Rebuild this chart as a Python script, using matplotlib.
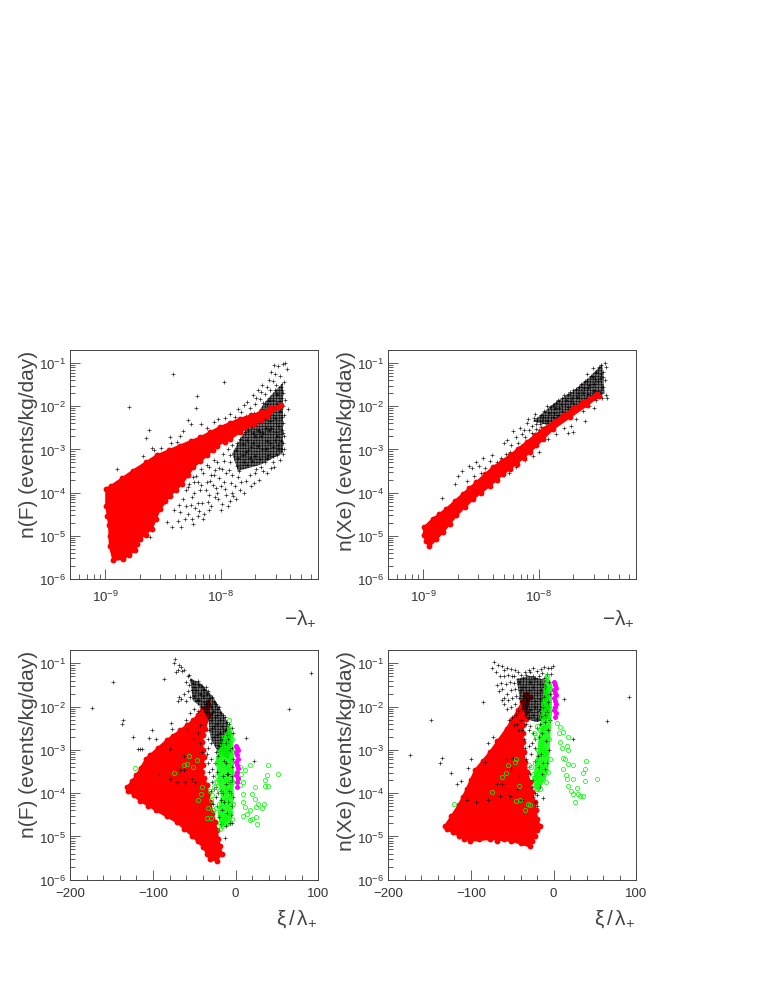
import numpy as np
import matplotlib
matplotlib.use('Agg')
from matplotlib import pyplot as plt
from matplotlib.ticker import LogLocator, NullFormatter, FixedLocator, LogFormatterMathtext

plt.rcParams['font.family'] = ['Liberation Sans', 'DejaVu Sans']
plt.rcParams['mathtext.fontset'] = 'custom'
plt.rcParams['mathtext.rm'] = 'Liberation Sans'
plt.rcParams['mathtext.it'] = 'Liberation Sans:italic'
plt.rcParams['mathtext.bf'] = 'Liberation Sans:bold'
plt.rcParams['hatch.linewidth'] = 0.45

# everything is log10(value), except xi/lambda which is linear in x

# top left: n(F) vs -lambda
tl_red = [(-8.99,-3.91),(-8.945,-3.84),(-8.757,-3.49),(-8.554,-3.14),(-8.351,-2.91),(-8.177,-2.72),
          (-8.003,-2.48),(-7.829,-2.29),(-7.655,-2.14),(-7.481,-1.97),(-7.50,-2.03),(-7.597,-2.23),
          (-7.713,-2.41),(-7.829,-2.60),(-7.916,-2.75),(-8.032,-2.91),(-8.119,-3.14),(-8.235,-3.41),
          (-8.336,-3.80),(-8.438,-4.07),(-8.525,-4.38),(-8.597,-4.84),(-8.699,-5.07),(-8.742,-5.34),
          (-8.843,-5.54),(-8.93,-5.55),(-8.959,-5.23),(-8.965,-4.76),(-8.99,-4.30)]
tl_red_edge = [(-8.85,-3.66),(-8.65,-3.3),(-8.45,-3.02),(-8.26,-2.8),(-8.09,-2.6),(-7.92,-2.38),(-7.74,-2.2),(-7.57,-2.05),
               (-8.07,-3.02),(-8.18,-3.27),(-8.28,-3.6),(-8.39,-3.95),(-8.48,-4.2),(-8.56,-4.6),(-8.65,-4.97),(-8.72,-5.2),
               (-8.79,-5.45),(-8.9,-5.5),(-8.96,-5.0),(-8.98,-4.55),(-7.96,-2.83),(-7.65,-2.32)]
tl_dense = [(-7.65,-3.35),(-7.46,-3.08),(-7.46,-1.45),(-7.6,-1.85),(-7.72,-2.3),(-7.82,-2.7),(-7.9,-3.1),(-7.85,-3.5)]
tl_black = [(-8.414,-1.26),(-7.97,-1.43),(-8.206,-1.77),(-8.21,-2.04),(-8.79,-2.01),(-8.90,-3.45),(-8.62,-2.55),
    (-8.65,-2.73),(-8.44,-2.72),(-8.59,-2.97),(-8.675,-3.16),(-8.52,-2.96),(-8.33,-2.58),(-8.28,-2.31),(-8.26,-2.41),
    (-8.61,-5.03),(-8.42,-4.80),(-8.34,-4.80),(-8.235,-4.72),(-8.365,-4.65),(-8.46,-4.69),(-8.36,-4.28),(-8.58,-3.02),
    (-8.43,-2.85),(-8.38,-2.82),(-8.35,-2.70),(-8.17,-2.42),(-8.12,-2.5),(-8.06,-2.36),(-8.02,-2.3),(-7.96,-2.28),
    (-7.92,-2.18),(-7.88,-2.24),(-7.85,-2.06),(-7.82,-2.13),(-7.8,-1.98),(-7.77,-1.9),(-7.75,-2.05),(-7.72,-1.75),
    (-7.7,-1.95),(-7.68,-1.62),(-7.66,-1.83),(-7.64,-1.52),(-7.62,-1.72),(-7.6,-1.95),(-7.58,-1.4),(-7.57,-1.62),
    (-7.55,-1.85),(-7.53,-1.25),(-7.52,-1.5),(-7.51,-1.72),(-7.5,-1.08),(-7.49,-1.3),(-7.48,-1.55),(-7.47,-1.82),
    (-7.46,-1.02),(-7.44,-1.0),(-7.43,-1.15),(-7.42,-2.07),(-7.54,-1.05),(-7.56,-1.2),(-7.45,-1.45),(-7.46,-1.7),
    (-8.3,-4.3),(-8.28,-4.5),(-8.25,-4.1),(-8.22,-4.35),(-8.2,-4.55),(-8.18,-3.95),(-8.16,-4.25),(-8.14,-4.5),
    (-8.12,-3.75),(-8.1,-4.05),(-8.08,-4.3),(-8.06,-3.6),(-8.04,-3.9),(-8.02,-4.15),(-8.0,-4.4),(-7.99,-3.45),
    (-7.97,-3.75),(-7.95,-4.05),(-7.94,-4.3),(-7.92,-3.3),(-7.9,-3.6),(-7.88,-3.85),(-7.87,-4.15),(-7.85,-3.2),
    (-7.84,-3.5),(-7.82,-3.75),(-7.8,-4.0),(-7.78,-3.05),(-7.77,-3.35),(-7.75,-3.6),(-7.74,-3.85),(-7.72,-2.85),
    (-7.7,-3.15),(-7.69,-3.45),(-7.67,-3.7),(-7.65,-2.7),(-7.64,-3.0),(-7.62,-3.3),(-7.6,-3.55),(-7.58,-2.55),
    (-7.57,-2.85),(-7.55,-3.15),(-7.54,-3.4),(-7.52,-2.4),(-7.51,-2.7),(-7.5,-3.0),(-7.49,-3.25),(-7.47,-2.25),
    (-7.47,-2.55),(-7.46,-2.85),(-7.46,-3.1),(-8.4,-4.4),(-8.35,-4.45),(-8.3,-3.95),(-8.27,-3.8),(-8.24,-3.65),
    (-8.2,-3.75),(-8.15,-3.55),(-8.1,-3.4),(-8.08,-3.6),(-8.03,-3.3),(-7.98,-3.1),(-7.94,-3.0),(-7.9,-2.9),
    (-7.86,-2.85),(-7.83,-2.75),(-7.79,-2.6),(-7.76,-2.55),(-7.73,-2.45),(-7.69,-2.4),(-7.66,-2.25),(-7.62,-2.3),
    (-7.59,-2.15),(-7.55,-2.2),(-7.53,-2.05),(-7.49,-2.1),(-7.61,-2.5),(-7.56,-2.5),(-7.52,-2.6),(-7.48,-2.8),
    (-7.66,-2.6),(-7.7,-2.7),(-7.74,-2.95),(-7.6,-2.8),(-7.55,-2.95),(-7.5,-2.9),(-7.46,-2.4),(-7.46,-2.0),
    (-7.8,-3.3),(-7.75,-3.2),(-7.7,-3.55),(-7.65,-3.4),(-7.6,-3.2),(-7.55,-3.3),(-7.85,-3.65),(-7.9,-4.0),
    (-7.95,-3.55),(-8.0,-3.85),(-8.05,-4.1),(-8.1,-4.4),(-8.15,-4.6),(-8.2,-4.25),(-8.25,-4.6),(-7.92,-4.2),
    (-8.33,-4.15),(-8.31,-4.62),(-8.28,-3.88),(-8.26,-4.28),(-8.23,-4.02),(-8.21,-3.62),(-8.19,-4.42),(-8.17,-3.82),
    (-8.13,-3.93),(-8.11,-4.22),(-8.09,-3.72),(-8.07,-3.82),(-8.05,-3.48),(-8.03,-4.02),(-8.01,-3.67),(-7.99,-4.27),
    (-7.96,-3.92),(-7.93,-3.47),(-7.91,-3.77),(-7.89,-4.07),(-7.86,-3.38),(-7.83,-3.93),(-7.81,-3.12),(-7.78,-3.72),
    (-7.76,-3.02),(-7.73,-3.27),(-7.71,-3.77),(-7.68,-2.92),(-7.66,-3.22),(-7.63,-3.5),(-7.61,-2.98),(-7.59,-3.12),
    (-7.56,-3.42),(-7.53,-2.78),(-7.51,-3.12),(-7.48,-2.98),(-7.45,-2.7),(-7.45,-3.0),(-7.45,-2.2),(-7.44,-1.85),
    (-7.46,-2.62),(-7.47,-1.62),(-7.49,-1.88),(-7.51,-1.95),(-7.53,-1.62),(-7.55,-1.42),(-7.58,-1.85),(-7.6,-1.55),
    (-7.63,-1.92),(-7.65,-1.68),(-7.69,-1.82),(-7.71,-2.15),(-7.78,-2.22),(-7.83,-2.33),(-7.87,-2.45),(-7.93,-2.45),
    (-7.53,-2.28),(-7.5,-2.45),(-7.57,-2.35),(-7.63,-2.62),(-7.68,-2.55),(-7.72,-2.62),(-7.77,-2.78),(-7.81,-2.88),
    (-7.87,-3.02),(-7.92,-3.12),(-7.97,-3.28),(-8.01,-3.42),(-8.06,-3.25),(-8.12,-3.35),(-8.17,-3.45),(-8.23,-3.75)]

# top right: n(Xe) vs -lambda
tr_red = [(-8.99,-4.80),(-8.916,-4.61),(-8.80,-4.38),(-8.655,-4.03),(-8.539,-3.76),(-8.394,-3.41),(-8.249,-3.14),
          (-8.104,-2.83),(-7.959,-2.52),(-7.786,-2.21),(-7.612,-1.90),(-7.496,-1.71),(-7.481,-1.77),(-7.583,-1.98),
          (-7.728,-2.25),(-7.872,-2.52),(-7.959,-2.75),(-8.075,-3.06),(-8.191,-3.33),(-8.307,-3.57),(-8.423,-3.84),
          (-8.568,-4.15),(-8.713,-4.53),(-8.829,-4.92),(-8.945,-5.24),(-8.974,-5.11),(-8.994,-4.99)]
tr_red_edge = [(-8.86,-4.5),(-8.72,-4.2),(-8.6,-3.9),(-8.46,-3.58),(-8.32,-3.28),(-8.18,-2.98),(-8.03,-2.66),(-7.87,-2.36),
               (-7.7,-2.05),(-7.55,-1.8),(-8.02,-2.9),(-8.13,-3.2),(-8.25,-3.45),(-8.36,-3.7),(-8.5,-4.0),(-8.64,-4.33),
               (-8.77,-4.72),(-8.89,-5.08)]
tr_dense = [(-8.05,-2.35),(-7.85,-1.9),(-7.7,-1.65),(-7.55,-1.3),(-7.45,-1.02),(-7.43,-1.7),(-7.5,-1.85),(-7.7,-2.1),(-7.9,-2.45)]
tr_black = [(-8.84,-4.13),(-8.72,-3.8),(-8.6,-3.38),(-8.58,-3.42),(-8.54,-3.3),(-8.52,-3.38),(-8.5,-3.55),(-8.48,-3.2),
    (-8.46,-3.6),(-8.42,-3.28),(-8.4,-3.12),(-8.38,-3.42),(-8.36,-3.3),(-8.33,-3.2),(-8.3,-2.85),(-8.28,-3.1),
    (-8.27,-2.78),(-8.24,-2.9),(-8.22,-2.58),(-8.2,-2.72),(-8.18,-2.85),(-8.16,-2.5),(-8.14,-2.65),(-8.12,-2.72),
    (-8.1,-2.4),(-8.08,-2.55),(-8.06,-2.62),(-8.04,-2.28),(-8.02,-2.42),(-8.0,-2.55),(-7.98,-2.2),(-7.97,-2.35),
    (-7.95,-2.1),(-7.94,-2.45),(-7.92,-2.25),(-7.9,-2.02),(-7.89,-2.35),(-7.87,-2.15),(-7.85,-1.92),(-7.84,-2.28),
    (-7.82,-2.05),(-7.8,-1.8),(-7.79,-2.18),(-7.77,-1.95),(-7.75,-1.72),(-7.74,-2.1),(-7.72,-1.88),(-7.7,-1.62),
    (-7.69,-2.0),(-7.67,-1.78),(-7.65,-1.55),(-7.64,-1.92),(-7.62,-1.7),(-7.6,-1.42),(-7.59,-1.82),(-7.57,-1.58),
    (-7.55,-1.3),(-7.54,-1.75),(-7.52,-1.48),(-7.5,-1.2),(-7.49,-1.65),(-7.47,-1.35),(-7.46,-1.05),(-7.45,-1.55),
    (-7.44,-1.2),(-7.43,-1.0),(-7.43,-1.4),(-7.42,-1.75),(-7.41,-1.8),(-7.45,-1.8),(-7.5,-1.85),(-7.42,-1.1),
    (-7.56,-2.0),(-7.62,-2.1),(-7.68,-2.3),(-7.72,-2.45),(-7.78,-2.5),(-7.85,-2.65),(-7.92,-2.75),(-8.0,-3.05),
    (-8.05,-3.15),(-8.12,-3.25),(-8.2,-3.4),(-8.26,-3.55),(-7.75,-2.62),(-7.7,-2.6),(-7.6,-2.35),(-7.52,-2.05),
    (-8.56,-3.62),(-8.62,-3.72),(-8.66,-3.5),(-8.7,-3.62),(-8.46,-3.42),(-8.3,-3.3),(-8.15,-2.92),(-8.25,-3.05),
    (-7.58,-1.25),(-7.53,-1.12),(-7.48,-1.1),(-7.46,-1.25),(-7.51,-1.38),(-7.56,-1.5),(-7.61,-1.58),(-7.66,-1.7),
    (-7.71,-1.8),(-7.76,-1.85),(-7.81,-1.95),(-7.86,-2.05),(-7.91,-2.15),(-7.96,-2.25),(-8.01,-2.35),(-8.06,-2.45),
    (-8.13,-2.55),(-8.09,-2.3),(-8.03,-2.18),(-7.99,-2.42),(-7.93,-2.0),(-7.88,-1.98),(-7.83,-1.85),(-7.78,-1.75),
    (-7.73,-1.68),(-7.68,-1.6),(-7.63,-1.48),(-7.58,-1.42),(-7.53,-1.32),(-7.49,-1.42),(-7.44,-1.32),(-7.44,-1.55),
    (-7.47,-1.7),(-7.52,-1.65),(-7.57,-1.72),(-7.6,-1.95),(-7.65,-1.82),(-7.7,-1.92),(-7.75,-2.02),(-7.8,-2.1),
    (-7.83,-2.2),(-7.88,-2.25),(-7.93,-2.35),(-7.98,-2.48),(-8.02,-2.52)]

# bottom left: n(F) vs xi/lambda
bl_red = [(-131,-3.86),(-120,-3.59),(-108,-3.20),(-83.5,-2.78),(-67,-2.55),(-51,-2.31),(-41,-2.08),(-33,-1.95),
          (-32,-2.20),(-37,-2.51),(-41,-2.82),(-38,-3.16),(-41,-3.51),(-35,-3.82),(-31,-4.21),(-25,-4.67),(-21,-5.06),
          (-17,-5.40),(-23,-5.56),(-31,-5.52),(-39,-5.25),(-53,-4.98),(-71,-4.67),(-96,-4.40),(-116,-4.17),(-130,-3.94)]
bl_red_edge = [(-125,-3.72),(-114,-3.42),(-103,-3.12),(-94,-2.95),(-76,-2.68),(-59,-2.42),(-46,-2.2),(-39,-2.65),(-39,-3.0),
               (-40,-3.35),(-38,-3.66),(-33,-4.02),(-28,-4.45),(-23,-4.85),(-19,-5.22),(-35,-5.4),(-46,-5.1),(-62,-4.82),
               (-83,-4.53),(-106,-4.3),(-123,-4.05)]
bl_dense = [(-55,-1.35),(-43,-1.45),(-27,-1.78),(-11,-2.32),(-5,-2.6),(-8,-3.2),(-20,-3.1),(-30,-2.75),(-33,-2.3),(-40,-2.05),(-52,-1.85)]
bl_green_core = [(-7,-2.43),(-3,-2.66),(-2,-3.5),(-3,-4.28),(-5,-4.75),(-17,-4.79),(-22,-4.52),(-18,-4.05),(-22,-3.67),
                 (-24,-3.2),(-18,-2.82),(-11,-2.58)]
bl_black = [(-148,-1.43),(-174,-2.04),(91,-1.22),(65,-2.05),(-136,-2.31),(-137,-2.41),(-124,-2.70),(-118,-2.99),(-113,-2.97),
    (-116,-2.97),(-105,-2.72),(-101,-2.55),(-87,-1.37),(13,-2.72),(22,-3.26),(-13,-5.03),(-78,-2.39),(-77,-2.51),(-96,-2.74),
    (-79,-2.97),(-93,-3.57),(-79,-3.67),(-63,-3.13),(-67,-3.47),(-63,-3.47),(-53,-3.67),(-49,-3.74),(-43,-2.43),(-45,-2.62),
    (-43,-2.85),(-41,-3.05),(-51,-2.74),(-59,-2.51),(-71,-3.74),(-61,-3.74),
    (-73,-0.9),(-74,-1.0),(-68,-1.05),(-66,-1.08),(-70,-1.15),(-65,-1.18),(-72,-1.2),(-63,-1.15),(-58,-1.3),(-56,-1.28),
    (-54,-1.38),(-60,-1.42),(-57,-1.5),(-52,-1.45),(-50,-1.55),(-46,-1.4),(-44,-1.5),(-48,-1.62),(-53,-1.62),(-58,-1.65),
    (-62,-1.72),(-66,-1.82),(-70,-1.88),(-68,-1.78),(-60,-1.88),(-55,-1.78),(-50,-1.75),(-47,-1.85),(-43,-1.7),(-40,-1.62),
    (-38,-1.6),(-35,-1.72),(-33,-1.65),(-31,-1.8),(-28,-1.78),(-26,-1.9),(-24,-1.95),(-22,-2.05),(-20,-2.02),(-18,-2.15),
    (-15,-2.2),(-13,-2.25),(-10,-2.35),(-8,-2.4),(-5,-2.5),(-3,-2.6),(-38,-1.9),(-36,-1.95),(-42,-2.0),(-45,-2.1),(-50,-2.05),
    (-55,-2.15),(-60,-2.3),(-30,-2.3),(-28,-2.5),(-26,-2.7),(-30,-2.85),(-33,-2.95),(-35,-3.1),(-33,-3.3),(-30,-3.2),
    (-32,-3.5),(-28,-3.45),(-25,-3.3),(-22,-3.5),(-28,-3.75),(-26,-3.9),(-30,-3.95),(-24,-4.1),(-27,-4.25),(-22,-4.3),
    (-20,-4.55),(-18,-4.72),(-12,-4.75),(-7,-4.7),(-4,-4.68),(-5,-4.3),(-3,-4.1),(-8,-3.95),(-4,-3.7),(-9,-3.55),(-5,-3.4),
    (-12,-3.3),(-15,-3.6),(-18,-3.95),(-14,-4.2),(-10,-4.45),(-16,-4.4),(-3,-3.2),(-7,-3.0),(-12,-2.85),(-16,-2.75),
    (-20,-2.9),(-24,-3.05),(-36,-1.55),(-41,-1.52),(-39,-1.75),(-44,-1.85),(-34,-1.85),(-30,-2.0),(-27,-2.1),(-25,-2.25),
    (-22,-2.4),(-19,-2.3),(-16,-2.45),(-13,-2.55),(-10,-2.65),(-19,-2.6),(-23,-2.65),(-26,-2.45),(-29,-2.15),(-32,-2.55),
    (-34,-2.75),(-22,-2.2),(-18,-2.85),(-21,-3.15),(-27,-3.6),(-24,-3.85),(-21,-4.0),(-18,-4.15),(-15,-4.0),(-12,-3.8),
    (-9,-4.2),(-6,-4.5),(-7,-3.75),(-11,-3.55),(-14,-3.25),(-4,-2.95),(-9,-2.75),(-5,-3.6),(-6,-4.0)]
bl_green_x = [38.7,50.8,17,5,11,7,37.5,35,23,35.5,39.5,5,8.5,19.3,23.4,9.3,27.4,34.7,11.3,31.5,24.6,13.3,17,9.3,19.4,24.6,25.4,17.3,3,8.5,
              -122,-56,-62.5,-58.5,-52,-47,-74.6,-41,-42,-45,-34,-35,-30,-19,-27,-31,-23,
              -20,-16,-22,-25,-28,-20,-24,-26,-30,-22,-18,-14,-8,-12,-6,
              -8,-5,-12,-3,-10,-7,-15,-4,-18,-9,-6,-13,-20,-11,-16,-3,-7,-14,-19,-10,-5,-17,-8,-12,-2,-6]
bl_green_y = [-3.34,-3.55,-3.36,-3.40,-3.47,-3.55,-3.59,-3.70,-3.86,-3.84,-3.84,-3.82,-4.01,-4.01,-4.13,-4.21,-4.25,-4.26,-4.32,-4.34,-4.32,-4.48,-4.40,-4.52,-4.59,-4.55,-4.71,-4.63,-3.67,-3.74,
              -3.42,-3.15,-3.36,-3.32,-3.40,-3.24,-3.53,-3.86,-4.03,-4.15,-4.35,-4.57,-4.57,-4.83,-4.40,-3.94,-3.74,
              -3.95,-4.45,-3.3,-3.75,-4.05,-4.25,-4.35,-3.85,-4.15,-3.6,-3.1,-2.7,-2.3,-2.95,-3.3,
              -2.5,-2.75,-2.68,-3.05,-3.15,-3.45,-3.35,-3.75,-3.05,-3.85,-4.05,-3.95,-3.2,-4.15,-4.75,-4.25,-4.45,-4.6,-4.7,-4.55,-4.6,-4.65,-2.85,-3.7,-3.55,-2.95]
bl_magenta_x = [1,2,3,1,2,3,1,2,3,2,1,3,2,2]
bl_magenta_y = [-2.9,-2.95,-3.0,-3.05,-3.12,-3.2,-3.27,-3.35,-3.42,-3.5,-3.58,-3.65,-3.75,-3.85]

# bottom right: n(Xe) vs xi/lambda
br_red = [(-131,-4.75),(-115,-4.28),(-105,-3.90),(-95,-3.47),(-77,-3.05),(-57,-2.51),(-43,-2.08),(-33,-1.70),(-29,-1.77),
          (-33,-2.12),(-37,-2.43),(-37.5,-2.82),(-35,-3.28),(-29,-3.74),(-23,-4.21),(-20,-4.59),(-17,-4.75),(-23,-4.98),
          (-29,-5.23),(-51,-5.10),(-77,-5.06),(-101,-5.10),(-115,-4.98),(-129,-4.83)]
br_red_edge = [(-124,-4.52),(-110,-4.1),(-100,-3.7),(-86,-3.25),(-68,-2.8),(-50,-2.3),(-38,-1.9),(-34,-2.28),(-37,-2.62),
               (-36,-3.05),(-32,-3.5),(-26,-3.98),(-21,-4.4),(-20,-4.85),(-26,-5.1),(-40,-5.15),(-60,-5.05),(-69,-5.1),(-90,-5.05),(-108,-5.06),(-122,-4.9)]
br_dense = [(-45,-1.36),(-29,-1.29),(-8.5,-1.39),(-4,-1.97),(-6.5,-2.28),(-20.5,-2.36),(-32,-2.29),(-40,-1.9)]
br_green_core = [(-8.5,-1.23),(-1.5,-1.5),(-2.5,-2.28),(-4.5,-2.9),(-6.5,-3.52),(-12.5,-3.76),(-18.5,-3.99),(-24.5,-3.83),
                 (-24,-3.52),(-20,-3.06),(-16,-2.43),(-13,-1.73)]
br_black = [(-148,-2.31),(-174,-3.11),(91,-1.77),(65,-2.33),(13,-1.83),(23,-2.74),(-86,-1.89),(-135,-3.18),(-137,-3.3),
    (-124,-3.53),(-117,-3.78),(-112.5,-3.72),(-104,-3.43),(-100,-3.22),(-79,-2.83),(-73,-2.70),(-83,-3.28),(-12.5,-4.11),
    (-105,-4.15),(-94,-4.2),(-80,-4.15),(-65,-4.07),(-69,-3.8),(-63,-3.78),(-57,-3.22),(-49,-3.18),(-51,-3.45),(-41.5,-3.63),
    (-53,-4.07),(-20.5,-4.3),
    (-72,-0.97),(-74,-1.1),(-67,-1.05),(-63,-1.07),(-70,-1.2),(-60,-1.15),(-57,-1.1),(-52,-1.12),(-47,-1.15),(-43,-1.2),
    (-65,-1.3),(-60,-1.3),(-55,-1.27),(-50,-1.3),(-68,-1.5),(-64,-1.45),(-58,-1.48),(-53,-1.42),(-48,-1.45),(-66,-1.65),
    (-62,-1.6),(-57,-1.7),(-52,-1.62),(-47,-1.6),(-55,-1.85),(-50,-1.8),(-60,-1.8),(-45,-1.75),(-57,-2.05),(-52,-2.0),
    (-47,-1.95),(-43,-2.1),(-50,-2.25),(-46,-2.2),(-40,-2.3),(-38,-1.55),(-35,-1.2),(-30,-1.15),(-25,-1.1),(-20,-1.18),
    (-15,-1.12),(-12,-1.08),(-7,-1.1),(-3,-1.1),(-1,-1.07),(-8,-1.25),(-3,-1.25),(-18,-1.3),(-25,-1.3),
    (-28,-2.45),(-25,-2.6),(-20,-2.5),(-16,-2.4),(-30,-2.55),(-22,-2.75),(-26,-2.85),(-18,-2.7),(-14,-2.6),(-30,-2.9),
    (-23,-2.95),(-27,-3.1),(-19,-3.15),(-15,-3.1),(-22,-3.25),(-13,-3.3),(-18,-3.4),(-10,-3.45),(-14,-3.55),(-8,-3.3),
    (-6,-3.0),(-9,-2.8),(-7,-2.55),(-11,-2.35),(-34,-2.4),(-38,-2.55),(-36,-2.75),(-35,-2.95),(-33,-3.2),(-30,-3.4),
    (-28,-3.55),(-25,-3.7),(-26,-3.85),(-22,-4.0),(-25,-4.1),(-23,-4.2),(-20,-4.05),(-17,-3.85),(-44,-3.9),(-38,-4.15),
    (-42,-1.42),(-37,-1.35),(-33,-1.28),(-28,-1.42),(-23,-1.35),(-17,-1.48),(-12,-1.35),(-6,-1.42),(-40,-1.62),(-35,-1.55),
    (-30,-1.62),(-25,-1.55),(-20,-1.68),(-15,-1.62),(-10,-1.55),(-5,-1.7),(-42,-1.8),(-37,-1.75),(-32,-1.85),(-27,-1.78),
    (-22,-1.88),(-17,-1.82),(-12,-1.78),(-7,-1.9),(-38,-2.05),(-33,-2.0),(-28,-2.08),(-23,-2.02),(-18,-2.1),(-13,-2.02),
    (-8,-2.12),(-35,-2.2),(-30,-2.25),(-25,-2.2),(-20,-2.28),(-15,-2.22),(-10,-2.2),(-5,-2.3),(-44,-2.4),(-42,-2.55),
    (-54,-2.32),(-48,-2.42),(-60,-1.95),(-63,-1.85),(-28,-1.2),(-14,-1.22),(-40,-1.28),(-48,-1.3)]
br_green_x = [3.6,7.7,11.7,6.5,17.7,7.7,16.5,17.7,9.7,10.9,13.7,39,23.8,17.7,11.7,38,35,52,14.5,16.5,37.9,23.8,27.8,17.7,20.5,23.8,29.8,35,25.8,32,
              -121,-74,-55.7,-47,-45.6,-58,-63,-41.5,-40.7,-45.6,-34.7,-30.7,-28.6,
              -24,-22,-19,-27,-30,-25,-21,-17,-14,-16,-18,-20,-13,-24,-22,-11,-15,-19,
              -8,-5,-10,-3,-7,-12,-6,-9,-4,-14,-11,-16,-7,-13,-18,-10,-6,-15,-12,-20,-9,-17]
br_green_y = [-2.39,-2.47,-2.58,-2.62,-2.70,-2.82,-2.90,-3.0,-2.95,-3.18,-3.22,-3.26,-3.36,-3.33,-3.45,-3.45,-3.53,-3.67,-3.57,-3.67,-3.72,-3.68,-3.88,-3.84,-3.96,-4.01,-4.01,-4.07,-4.21,-4.07,
              -4.25,-3.98,-3.36,-3.28,-3.20,-3.53,-3.62,-3.84,-4.15,-4.19,-4.38,-4.25,-4.28,
              -3.65,-3.3,-3.0,-3.4,-3.35,-3.55,-2.7,-2.55,-2.25,-2.85,-3.2,-2.45,-1.95,-2.6,-3.85,-1.4,-2.15,-3.55,
              -1.3,-1.6,-1.85,-2.05,-2.3,-2.5,-2.75,-3.05,-3.2,-2.95,-3.35,-3.45,-3.5,-3.65,-3.75,-1.6,-2.15,-2.8,-3.1,-3.9,-3.75,-3.9]
br_magenta_x = [1,2,3,1,2,3,1,2,3,2,1,3,2]
br_magenta_y = [-1.43,-1.5,-1.56,-1.62,-1.68,-1.74,-1.8,-1.87,-1.94,-2.0,-2.07,-2.15,-2.24]

y_decades = [1e-6, 1e-5, 1e-4, 1e-3, 1e-2, 1e-1]
lam_decades = [1e-9, 1e-8]
xi_major = [-200, -100, 0, 100]
xi_minor = list(range(-180, 100, 20))

W, H = 763, 987
GREY = '#444444'


def make_axes(left, top, right, bottom, logx):
    ax = fig.add_axes([left/W, 1-bottom/H, (right-left)/W, (bottom-top)/H])
    ax.set_yscale('log')
    ax.set_ylim(1e-6, 0.2)
    if logx:
        ax.set_xscale('log')
        ax.set_xlim(5e-10, 7e-8)
        ax.xaxis.set_major_locator(FixedLocator(lam_decades))
        ax.xaxis.set_major_formatter(LogFormatterMathtext())
        ax.xaxis.set_minor_locator(LogLocator(base=10, subs=np.arange(2, 10), numticks=6))
        ax.xaxis.set_minor_formatter(NullFormatter())
    else:
        ax.set_xlim(-200, 100)
        ax.xaxis.set_major_locator(FixedLocator(xi_major))
        ax.xaxis.set_minor_locator(FixedLocator(xi_minor))
        ax.set_xticklabels(['\u2212200', '\u2212100', '0', '100'])
    ax.yaxis.set_major_locator(FixedLocator(y_decades))
    ax.yaxis.set_major_formatter(LogFormatterMathtext())
    ax.yaxis.set_minor_locator(LogLocator(base=10, subs=np.arange(2, 10), numticks=8))
    ax.yaxis.set_minor_formatter(NullFormatter())
    ax.tick_params(which='major', direction='in', length=7.5, width=0.6, color=GREY, labelcolor='#333333',
                   labelsize=9.5, pad=3, top=False, right=False)
    ax.tick_params(axis='x', which='major', pad=7 if logx else 5)
    ax.tick_params(which='minor', direction='in', length=3.6, width=0.6, color=GREY, top=False, right=False)
    for s in ax.spines.values():
        s.set_linewidth(0.7)
        s.set_color(GREY)
    return ax


def pts(pairs, logx):
    a = np.array(pairs, dtype=float)
    x = 10**a[:, 0] if logx else a[:, 0]
    return x, 10**a[:, 1]


def red_blob(ax, pairs, edge, logx, z):
    x, y = pts(pairs, logx)
    ax.fill(x, y, facecolor='#ff0000', edgecolor='#ff0000', lw=1.5, zorder=z)
    ex, ey = pts(pairs + edge, logx)
    ax.plot(ex, ey, 'o', color='#ff0000', ms=4.2, mew=0, zorder=z)


def dense(ax, pairs, logx, z):
    # the crowded part of a cloud, too many crosses to read one by one
    x, y = pts(pairs, logx)
    ax.fill(x, y, facecolor=(0, 0, 0, 0.55), edgecolor=(0, 0, 0, 0.9), hatch='++++++', lw=0, zorder=z)


def cross(ax, pairs, logx, z):
    x, y = pts(pairs, logx)
    ax.plot(x, y, '+', color='black', ms=3.3, mew=0.5, alpha=0.85, zorder=z)


def bottom_panel(left, right, red, edge, cloud, core, black, gx, gy, mx, my):
    ax = make_axes(left, 651.3, right, 880.7, False)
    red_blob(ax, red, edge, False, 2)
    dense(ax, cloud, False, 3)
    x, y = pts(core, False)
    ax.fill(x, y, facecolor='#00ff00', alpha=0.85, lw=0, zorder=4)
    cross(ax, black, False, 5)
    ax.plot(gx, 10**np.array(gy), 'o', mfc='none', mec='#00ff00', ms=3.0, mew=0.55, zorder=6)
    ax.plot(mx, 10**np.array(my), 'o', color='#ff00ff', ms=3.6, mew=0, zorder=7)
    return ax


fig = plt.figure(figsize=(W/100, H/100), dpi=100)

ax1 = make_axes(70.3, 351, 318.3, 580, True)
dense(ax1, tl_dense, True, 2)
cross(ax1, tl_black, True, 3)
red_blob(ax1, tl_red, tl_red_edge, True, 4)

ax2 = make_axes(388.3, 351, 636.3, 580, True)
dense(ax2, tr_dense, True, 2)
cross(ax2, tr_black, True, 3)
red_blob(ax2, tr_red, tr_red_edge, True, 4)

ax3 = bottom_panel(70.3, 318.3, bl_red, bl_red_edge, bl_dense, bl_green_core, bl_black,
                   bl_green_x, bl_green_y, bl_magenta_x, bl_magenta_y)
ax4 = bottom_panel(388.3, 636.3, br_red, br_red_edge, br_dense, br_green_core, br_black,
                   br_green_x, br_green_y, br_magenta_x, br_magenta_y)

# axis titles sit at the far end of the axes, root style
for a, yl, xl, lx, rx, by in [(ax1, 'n(F) (events/kg/day)', r'$-\mathrm{\lambda}_{+}$', 29, 317, 625),
                              (ax2, 'n(Xe) (events/kg/day)', r'$-\mathrm{\lambda}_{+}$', 346, 635, 625),
                              (ax3, 'n(F) (events/kg/day)', r'$\mathrm{\xi}\,/\,\mathrm{\lambda}_{+}$', 29, 317, 925),
                              (ax4, 'n(Xe) (events/kg/day)', r'$\mathrm{\xi}\,/\,\mathrm{\lambda}_{+}$', 346, 635, 925)]:
    top = a.get_position().y1
    fig.text(lx/W, top, yl, rotation=90, ha='center', va='top', fontsize=15, color='#444444')
    fig.text(rx/W, 1-by/H, xl, ha='right', va='baseline', fontsize=15, color='#444444')

fig.savefig('out.png', dpi=100)
